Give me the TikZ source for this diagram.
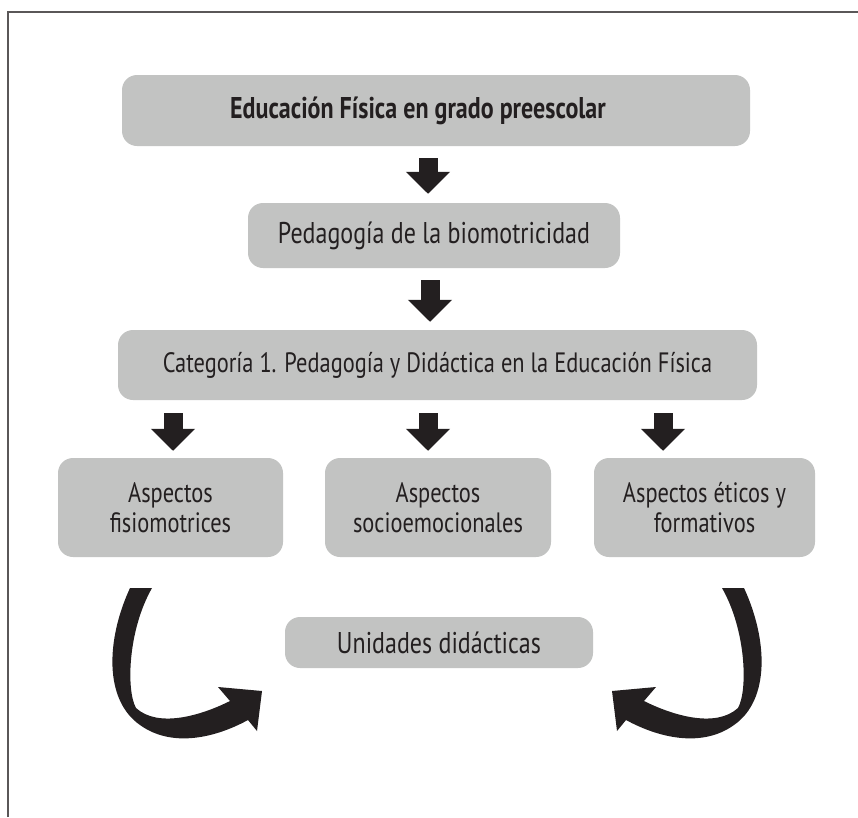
\documentclass[tikz,border=0pt]{standalone}
\usepackage{fontspec}
\setmainfont[FakeStretch=0.8]{PT Sans}
\usetikzlibrary{
  arrows.meta,
  calc,
  positioning
}
\definecolor{cajagris}{HTML}{C2C3C2}
\definecolor{tinta}{HTML}{231F20}
\tikzset{
  line join=round,
  caja/.style={fill=cajagris, rounded corners=15pt, text=tinta, align=center, inner sep=0pt,
    font=\fontsize{28}{30}\selectfont},
  flecha/.style={draw=tinta, line width=19pt, -{Triangle[width=43pt, length=22pt]}},
  giro/.style={fill=tinta}
}

\begin{document}
\begin{tikzpicture}[x=1pt, y=-1pt]
    \useasboundingbox (0,0) rectangle (858,817);
    \draw[line width=1.5pt, tinta!75] (8,817) -- (8,12) -- (858,12);

    \node[caja, minimum width=628pt, minimum height=71pt,
          font=\fontsize{30}{30}\selectfont\bfseries] (edu) at (436,110.5)
          {Educación Física en grado preescolar\hspace*{36pt}};
    \node[caja, minimum width=372pt, minimum height=65pt,
          font=\fontsize{30}{30}\selectfont] (ped) at (434,235.5)
          {Pedagogía de la biomotricidad};
    \node[caja, minimum width=639pt, minimum height=70pt] (cat) at (437.5,365)
          {Categoría 1. Pedagogía y Didáctica en la Educación Física};

    \node[caja, minimum width=225pt, minimum height=99pt] (fis) at (170.5,507.5)
          {Aspectos\\fisiomotrices};
    \node[caja, minimum width=226pt, minimum height=99pt] (soc) at (438,507.5)
          {Aspectos\\socioemocionales};
    \node[caja, minimum width=221pt, minimum height=99pt] (eti) at (704.5,507.5)
          {Aspectos éticos y\\formativos};

    \node[caja, minimum width=308pt, minimum height=51pt,
          font=\fontsize{30}{30}\selectfont] (uni) at (439,642.5)
          {Unidades didácticas};

    \draw[flecha] ($(edu.south)+(-8,12)$) -- ($(ped.north)+(-6,-9)$);
    \draw[flecha] ($(ped.south)+(-4,12)$) -- ($(cat.north)+(-7.5,-8)$);
    \draw[flecha] ($(cat.south)+(-264.5,13)$) -- ($(fis.north)+(2.5,-7)$);
    \draw[flecha] ($(cat.south)+(-9.5,13)$) -- ($(soc.north)+(-10,-7)$);
    \draw[flecha] ($(cat.south)+(225.5,13)$) -- ($(eti.north)+(-41.5,-7)$);

    % flechas curvas hacia las unidades
    \fill[giro] (130,588) .. controls (106,640) and (104,700) .. (140,725)
        .. controls (172,748) and (215,738) .. (248,720)
        -- (257,731) -- (262,691) -- (218,687) -- (230,701)
        .. controls (200,716) and (158,728) .. (136,708)
        .. controls (126,690) and (128,630) .. (152,588) -- cycle;
    \begin{scope}[shift={(874,0)}, xscale=-1]
    \fill[giro] (130,588) .. controls (106,640) and (104,700) .. (140,725)
        .. controls (172,748) and (215,738) .. (248,720)
        -- (257,731) -- (262,691) -- (218,687) -- (230,701)
        .. controls (200,716) and (158,728) .. (136,708)
        .. controls (126,690) and (128,630) .. (152,588) -- cycle;
    \end{scope}
\end{tikzpicture}
\end{document}
